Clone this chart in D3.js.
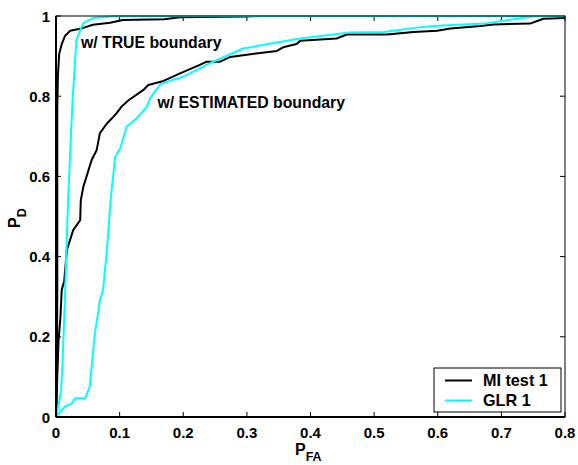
<!DOCTYPE html>
<html><head><meta charset="utf-8">
<script src="https://cdn.jsdelivr.net/npm/d3@7"></script>
<style>
body{margin:0;background:#fff;}
svg text{font-family:"Liberation Sans",Arial,sans-serif;font-weight:bold;fill:#000;}
</style></head>
<body><svg id="c" width="578" height="465"></svg>
<script>
// ----- data -----
const xTicks = [0,0.1,0.2,0.3,0.4,0.5,0.6,0.7,0.8];
const yTicks = [0,0.2,0.4,0.6,0.8,1];
const seriesNames = ["MI test 1","GLR 1"];
const seriesColors = ["#000000","#00ffff"];

const miTrue = [[0,0],[0.001,0.05],[0.002,0.3],[0.002,0.6],[0.002,0.77],[0.003,0.85],[0.005,0.905],[0.009,0.93],[0.014,0.95],[0.022,0.963],[0.038,0.968],[0.058,0.978],[0.085,0.983],[0.105,0.99],[0.17,0.992],[0.195,0.997],[0.3,0.999],[0.32,1],[0.8,1]];
const glrTrue = [[0,0],[0.004,0.03],[0.008,0.067],[0.01,0.125],[0.012,0.21],[0.014,0.29],[0.016,0.4],[0.019,0.54],[0.022,0.65],[0.026,0.79],[0.03,0.89],[0.032,0.94],[0.038,0.965],[0.043,0.982],[0.058,0.995],[0.095,1],[0.8,1]];
const miEst = [[0,0],[0.002,0.1],[0.004,0.19],[0.007,0.25],[0.009,0.317],[0.013,0.34],[0.017,0.416],[0.027,0.466],[0.038,0.491],[0.039,0.541],[0.043,0.574],[0.05,0.61],[0.056,0.641],[0.064,0.666],[0.069,0.708],[0.08,0.732],[0.088,0.745],[0.095,0.757],[0.103,0.774],[0.114,0.79],[0.137,0.815],[0.145,0.828],[0.169,0.838],[0.195,0.857],[0.226,0.878],[0.237,0.886],[0.258,0.886],[0.274,0.898],[0.347,0.913],[0.357,0.922],[0.378,0.93],[0.384,0.938],[0.441,0.944],[0.457,0.954],[0.52,0.954],[0.562,0.96],[0.599,0.963],[0.62,0.969],[0.667,0.975],[0.688,0.979],[0.745,0.981],[0.766,0.993],[0.8,0.995]];
const glrEst = [[0,0],[0.009,0.017],[0.014,0.026],[0.025,0.034],[0.03,0.047],[0.046,0.047],[0.053,0.076],[0.056,0.125],[0.061,0.209],[0.067,0.267],[0.069,0.292],[0.074,0.317],[0.08,0.416],[0.086,0.545],[0.093,0.649],[0.101,0.67],[0.111,0.724],[0.127,0.745],[0.143,0.774],[0.148,0.795],[0.164,0.83],[0.2,0.849],[0.247,0.886],[0.294,0.919],[0.347,0.934],[0.384,0.944],[0.462,0.959],[0.515,0.96],[0.567,0.971],[0.593,0.975],[0.672,0.981],[0.75,0.999],[0.8,1]];

// ----- layout -----
const L=56, R=565, T=16, B=417;
const svg = d3.select("#c");
const x = d3.scaleLinear().domain([0,0.8]).range([L,R]);
const y = d3.scaleLinear().domain([0,1]).range([B,T]);
const fmt = d => d===0?"0":(d===1?"1":String(d));

// ticks (inside, mirrored)
const tk=5;
const g = svg.append("g");
g.selectAll(".xt").data(xTicks).join("g").each(function(d){
  const s=d3.select(this);
  s.append("line").attr("x1",x(d)).attr("x2",x(d)).attr("y1",B).attr("y2",B-tk).attr("stroke","#000").attr("stroke-width",1);
  s.append("line").attr("x1",x(d)).attr("x2",x(d)).attr("y1",T).attr("y2",T+tk).attr("stroke","#000").attr("stroke-width",1);
});
g.selectAll(".yt").data(yTicks).join("g").each(function(d){
  const s=d3.select(this);
  s.append("line").attr("x1",L).attr("x2",L+tk).attr("y1",y(d)).attr("y2",y(d)).attr("stroke","#000").attr("stroke-width",1);
  s.append("line").attr("x1",R).attr("x2",R-tk).attr("y1",y(d)).attr("y2",y(d)).attr("stroke","#000").attr("stroke-width",1);
});
svg.append("g").selectAll("text").data(xTicks).join("text")
  .attr("x",d=>x(d)).attr("y",B+20.5).attr("text-anchor","middle").attr("font-size","15px").text(fmt);
svg.append("g").selectAll("text").data(yTicks).join("text")
  .attr("x",L-6).attr("y",d=>y(d)+5.5).attr("text-anchor","end").attr("font-size","15px").text(fmt);

// curves
const line = d3.line().x(d=>x(d[0])).y(d=>y(d[1]));
const curves=[[miTrue,0],[miEst,0],[glrTrue,1],[glrEst,1]];
svg.append("g").selectAll("path").data(curves).join("path")
  .attr("d",d=>line(d[0])).attr("fill","none").attr("stroke",d=>seriesColors[d[1]]).attr("stroke-width",2).attr("stroke-linejoin","round");

// box
svg.append("rect").attr("x",L).attr("y",T).attr("width",R-L).attr("height",B-T).attr("fill","none").attr("stroke","#000").attr("stroke-width",1);
svg.append("line").attr("x1",L).attr("x2",R).attr("y1",B).attr("y2",B).attr("stroke","#000").attr("stroke-width",2);
svg.append("line").attr("x1",L).attr("x2",L).attr("y1",T).attr("y2",B).attr("stroke","#000").attr("stroke-width",2);

// annotations
svg.append("text").attr("x",81).attr("y",47.5).attr("font-size","15.8px").text("w/ TRUE boundary");
svg.append("text").attr("x",157.5).attr("y",108).attr("font-size","15.8px").text("w/ ESTIMATED boundary");

// axis labels
const xl = svg.append("text").attr("x",295).attr("y",455).attr("font-size","16px");
xl.append("tspan").text("P");
xl.append("tspan").attr("dy",6).attr("font-size","12.5px").text("FA");
const yl = svg.append("text").attr("transform","translate(20,228) rotate(-90)").attr("font-size","16px");
yl.append("tspan").text("P");
yl.append("tspan").attr("dy",6).attr("font-size","12.5px").text("D");

// legend
const lg = svg.append("g");
lg.append("rect").attr("x",434).attr("y",368).attr("width",127).attr("height",44).attr("fill","#fff").attr("stroke","#000").attr("stroke-width",1);
seriesNames.forEach((n,i)=>{
  const yy=380.5+i*20;
  lg.append("line").attr("x1",445).attr("x2",472).attr("y1",yy).attr("y2",yy).attr("stroke",seriesColors[i]).attr("stroke-width",2);
  lg.append("text").attr("x",483).attr("y",yy+5.5).attr("font-size","16.2px").text(n);
});
</script></body></html>
